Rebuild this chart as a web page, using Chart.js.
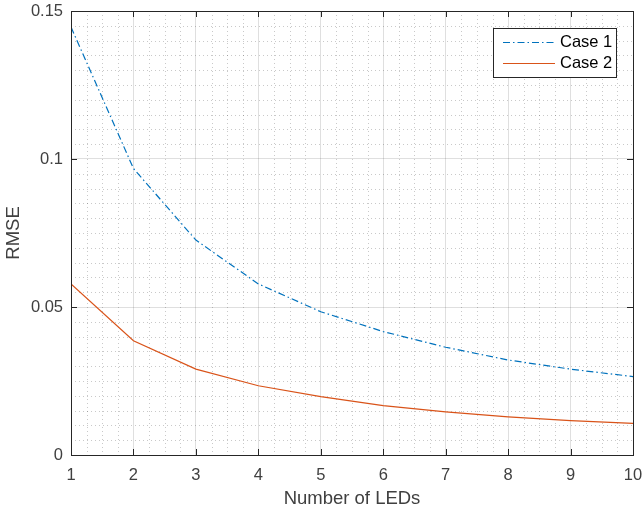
<!DOCTYPE html>
<html lang="en">
<head>
<meta charset="UTF-8">
<title>RMSE vs Number of LEDs</title>
<script src="https://cdn.jsdelivr.net/npm/chart.js@4"></script>
<style>
  html, body { margin:0; padding:0; background:#fff; }
  #wrap { width:642px; height:510px; position:relative; }
</style>
</head>
<body>
<div id="wrap"><canvas id="c"></canvas></div>
<script>
const leds = [1, 2, 3, 4, 5, 6, 7, 8, 9, 10];
const case1 = [0.1446, 0.0968, 0.0726, 0.0578, 0.0484, 0.0417, 0.0364, 0.0321, 0.0290, 0.0265];
const case2 = [0.0578, 0.0386, 0.0290, 0.0234, 0.0197, 0.0167, 0.0146, 0.0129, 0.0116, 0.0107];
const xTicks = [1, 2, 3, 4, 5, 6, 7, 8, 9, 10];
const yTicks = [0, 0.05, 0.1, 0.15];

const FONT = '"Liberation Sans", Arial, sans-serif';
const AXIS = '#262626';
const LABEL = '#404040';

// minor grid, box, inside ticks, legend — matlab look
const matlabAxes = {
  id: 'matlabAxes',
  beforeDatasetsDraw(chart) {
    const { ctx, chartArea: a, scales: { x, y } } = chart;
    ctx.save();
    ctx.strokeStyle = 'rgba(38,38,38,0.25)';
    ctx.lineWidth = 1;
    ctx.setLineDash([1, 3]);
    for (let v = 1; v <= 10.001; v += 0.25) {
      if (Math.abs(v - Math.round(v)) < 1e-6) continue;
      const px = Math.round(x.getPixelForValue(v)) + 0.5;
      ctx.beginPath(); ctx.moveTo(px, a.top); ctx.lineTo(px, a.bottom); ctx.stroke();
    }
    for (let i = 1; i < 30; i++) {
      if (i % 10 === 0) continue;
      const py = Math.round(y.getPixelForValue(i * 0.005)) + 0.5;
      ctx.beginPath(); ctx.moveTo(a.left, py); ctx.lineTo(a.right, py); ctx.stroke();
    }
    ctx.restore();
  },
  afterDatasetsDraw(chart) {
    const { ctx, chartArea: a, scales: { x, y } } = chart;
    ctx.save();
    ctx.strokeStyle = AXIS;
    ctx.lineWidth = 1;
    ctx.setLineDash([]);
    ctx.strokeRect(Math.round(a.left) + 0.5, Math.round(a.top) + 0.5,
      Math.round(a.right - a.left), Math.round(a.bottom - a.top));
    const t = 6;
    xTicks.forEach(v => {
      const px = Math.round(x.getPixelForValue(v)) + 0.5;
      ctx.beginPath();
      ctx.moveTo(px, a.bottom); ctx.lineTo(px, a.bottom - t);
      ctx.moveTo(px, a.top); ctx.lineTo(px, a.top + t);
      ctx.stroke();
    });
    yTicks.forEach(v => {
      const py = Math.round(y.getPixelForValue(v)) + 0.5;
      ctx.beginPath();
      ctx.moveTo(a.left, py); ctx.lineTo(a.left + t, py);
      ctx.moveTo(a.right, py); ctx.lineTo(a.right - t, py);
      ctx.stroke();
    });

    // legend box
    const lx = 493, ly = 28, lw = 123, lh = 49;
    ctx.fillStyle = '#fff';
    ctx.fillRect(lx, ly, lw, lh);
    ctx.strokeRect(lx + 0.5, ly + 0.5, lw, lh);
    ctx.font = '16.5px ' + FONT;
    ctx.textBaseline = 'middle';
    chart.data.datasets.forEach((ds, i) => {
      const cy = ly + 14 + i * 21 + 0.5;
      ctx.strokeStyle = ds.borderColor;
      ctx.lineWidth = 1.2;
      ctx.setLineDash(ds.borderDash || []);
      ctx.beginPath(); ctx.moveTo(lx + 10, cy); ctx.lineTo(lx + 62, cy); ctx.stroke();
      ctx.setLineDash([]);
      ctx.fillStyle = '#000';
      ctx.fillText(ds.label, lx + 67, cy);
    });
    ctx.restore();
  }
};

new Chart(document.getElementById('c'), {
  type: 'line',
  data: {
    datasets: [
      { label: 'Case 1', data: leds.map((v, i) => ({ x: v, y: case1[i] })),
        borderColor: '#0072BD', borderWidth: 1.2, borderDash: [7, 3, 1.5, 3],
        pointRadius: 0, tension: 0, fill: false },
      { label: 'Case 2', data: leds.map((v, i) => ({ x: v, y: case2[i] })),
        borderColor: '#D95319', borderWidth: 1.2,
        pointRadius: 0, tension: 0, fill: false }
    ]
  },
  options: {
    responsive: true,
    maintainAspectRatio: false,
    animation: false,
    layout: { padding: { top: 11, right: 9, left: 0, bottom: 0 } },
    plugins: { legend: { display: false }, tooltip: { enabled: false } },
    scales: {
      x: {
        type: 'linear', min: 1, max: 10,
        afterBuildTicks: s => { s.ticks = xTicks.map(v => ({ value: v })); },
        afterFit: s => { s.height = 55; s.paddingLeft = 0; s.paddingRight = 0; },
        grid: { color: 'rgba(38,38,38,0.15)', drawTicks: false },
        border: { display: false },
        ticks: { color: LABEL, font: { family: FONT, size: 16.5 }, padding: 11, maxRotation: 0 },
        title: { display: true, text: 'Number of LEDs', color: LABEL,
          font: { family: FONT, size: 18.5 }, padding: 0 }
      },
      y: {
        min: 0, max: 0.15,
        afterBuildTicks: s => { s.ticks = yTicks.map(v => ({ value: v })); },
        afterFit: s => { s.width = 71; s.paddingTop = 0; s.paddingBottom = 0; },
        grid: { color: 'rgba(38,38,38,0.15)', drawTicks: false },
        border: { display: false },
        ticks: { color: LABEL, font: { family: FONT, size: 16.5 }, padding: 8,
          callback: v => String(v) },
        title: { display: true, text: 'RMSE', color: LABEL,
          font: { family: FONT, size: 18.5 }, padding: { top: 3, bottom: 0 } }
      }
    }
  },
  plugins: [matlabAxes]
});
</script>
</body>
</html>
